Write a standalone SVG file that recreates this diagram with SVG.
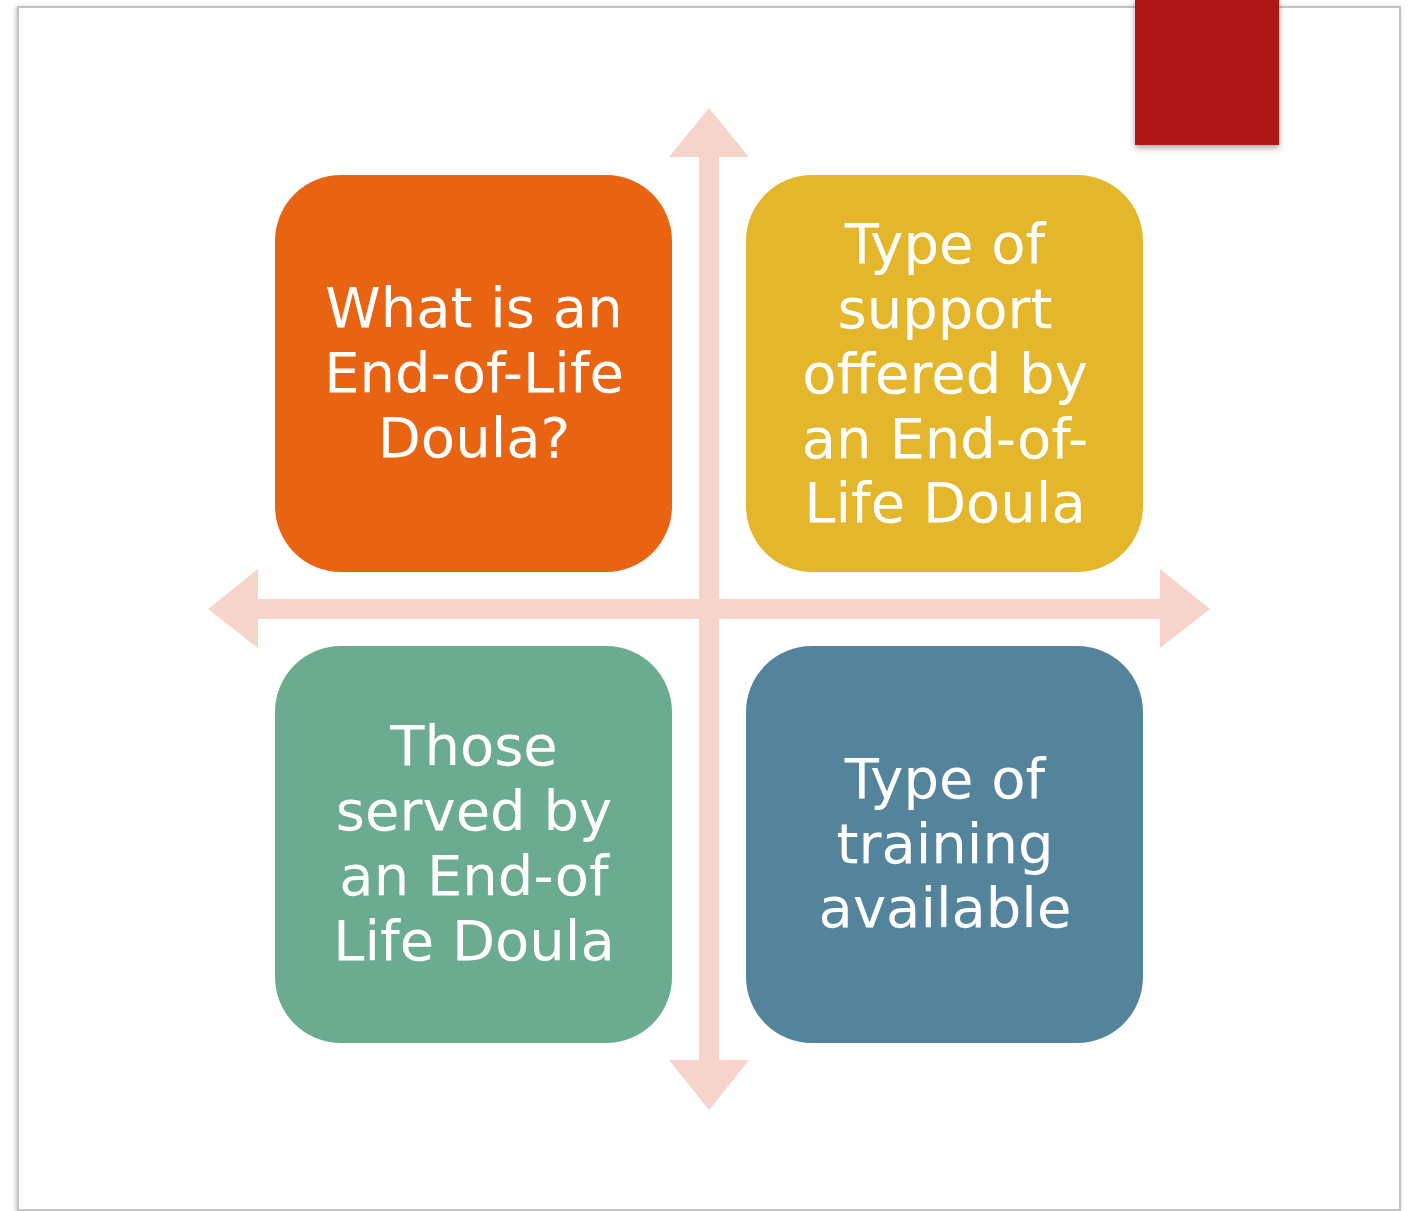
<svg xmlns="http://www.w3.org/2000/svg" width="1412" height="1211" viewBox="0 0 1412 1211">
<defs>
<filter id="sh" x="-5%" y="-5%" width="110%" height="110%">
<feDropShadow dx="-1" dy="1" stdDeviation="2" flood-color="#000" flood-opacity="0.25"/>
</filter>
<filter id="sh2" x="-10%" y="-10%" width="130%" height="130%">
<feDropShadow dx="0" dy="3" stdDeviation="3" flood-color="#000" flood-opacity="0.35"/>
</filter>
<style>
.box text{font-family:"DejaVu Sans",sans-serif;font-size:56px;fill:#fff;text-anchor:middle}
.arr{fill:#F6D3CB}
</style>
</defs>
<rect width="1412" height="1211" fill="#fff"/>
<rect id="frame" x="18" y="7" width="1382" height="1203" fill="#fff" stroke="#c4c4c4" stroke-width="2" filter="url(#sh)"/>
<rect id="tab" x="1135" y="-2" width="144" height="147" fill="#AF1515" filter="url(#sh2)"/>
<g id="connectors">
<polygon class="arr" points="709,108 749,157 719,157 719,1060 749,1060 709,1110 669,1060 699,1060 699,157 669,157"/>
<polygon class="arr" points="208,609 258,569 258,599 1160,599 1160,569 1210,609 1160,648 1160,619 258,619 258,648"/>
</g>
<g id="n1" class="box">
<rect x="275" y="175" width="397" height="397" rx="66" fill="#E86413"/>
<text x="474" y="327">What is an</text>
<text x="474" y="392">End-of-Life</text>
<text x="474" y="457">Doula?</text>
</g>
<g id="n2" class="box">
<rect x="746" y="175" width="397" height="397" rx="66" fill="#E4B62B"/>
<text x="945" y="263">Type of</text>
<text x="945" y="328">support</text>
<text x="945" y="393">offered by</text>
<text x="945" y="458">an End-of-</text>
<text x="945" y="522">Life Doula</text>
</g>
<g id="n3" class="box">
<rect x="275" y="646" width="397" height="397" rx="66" fill="#6BAB8F"/>
<text x="474" y="765">Those</text>
<text x="474" y="830">served by</text>
<text x="474" y="895">an End-of</text>
<text x="474" y="960">Life Doula</text>
</g>
<g id="n4" class="box">
<rect x="746" y="646" width="397" height="397" rx="66" fill="#54849B"/>
<text x="945" y="798">Type of</text>
<text x="945" y="863">training</text>
<text x="945" y="927">available</text>
</g>
</svg>
